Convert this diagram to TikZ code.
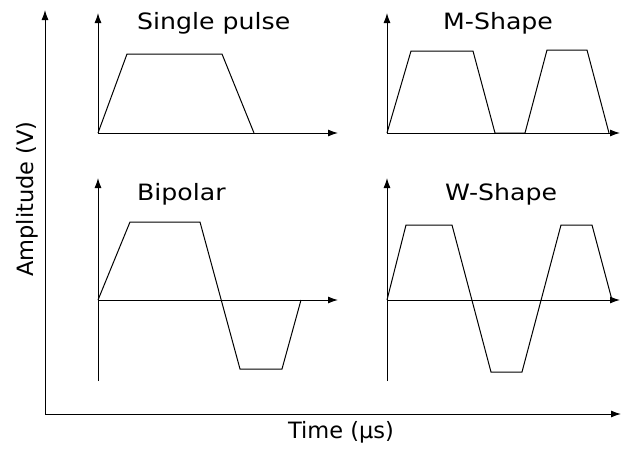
\documentclass[tikz,border=0pt]{standalone}
\usepackage{fontspec}
\setmainfont{DejaVu Sans}[FakeStretch=1.12]
\newfontfamily\axisfont{DejaVu Sans}
\usetikzlibrary{arrows.meta}

\begin{document}
\begin{tikzpicture}[
  x=1pt, y=-1pt,
  axis/.style={-{Latex[length=10pt,width=7pt]}, line width=1pt},
  wave/.style={line width=1pt, line join=miter},
  lbl/.style={font=\fontsize{22.5}{27}\selectfont, inner sep=0pt, anchor=base west},
  axlbl/.style={font=\axisfont\fontsize{22.5}{27}\selectfont, inner sep=0pt, anchor=base}
]
\useasboundingbox (0,0) rectangle (622,450);

% outer axes
\coordinate (O) at (45,414);
\coordinate (ampTop) at (45,10);
\coordinate (timeEnd) at (621,414);
\draw[axis] (O) -- (ampTop);
\draw[axis] (O) -- (timeEnd);
\node[axlbl, rotate=90] (amp) at (33,199) {Amplitude (V)};
\node[axlbl] (time) at (341,438) {Time (µs)};

% single pulse
\coordinate (sp) at (98,133);
\coordinate (spTop) at (98,13);
\coordinate (spEnd) at (338,133);
\draw[axis] (sp) -- (spTop);
\draw[axis] (sp) -- (spEnd);
\draw[wave] (sp) -- (127,54) -- (222,54) -- (254,133);
\node[lbl] (spLbl) at (137,29) {Single pulse};

% M-shape
\coordinate (ms) at (387,133);
\coordinate (msTop) at (387,13);
\coordinate (msEnd) at (620,133);
\draw[axis] (ms) -- (msTop);
\draw[axis] (ms) -- (msEnd);
\draw[wave] (ms) -- (411,51) -- (473,51) -- (495,133) -- (525,133)
  -- (547,50) -- (587,50) -- (609,133);
\node[lbl] (msLbl) at (443,29) {M-Shape};

% bipolar
\coordinate (bp) at (98,300);
\coordinate (bpTop) at (98,178);
\coordinate (bpLow) at (98,381);
\coordinate (bpEnd) at (338,300);
\draw[axis] (bpLow) -- (bpTop);
\draw[axis] (bp) -- (bpEnd);
\draw[wave] (bp) -- (130,222) -- (200,222) -- (240,369) -- (282,369) -- (301,300);
\node[lbl] (bpLbl) at (137,200) {Bipolar};

% W-shape
\coordinate (ws) at (387,300);
\coordinate (wsTop) at (387,178);
\coordinate (wsLow) at (387,381);
\coordinate (wsEnd) at (620,300);
\draw[axis] (wsLow) -- (wsTop);
\draw[axis] (ws) -- (wsEnd);
\draw[wave] (ws) -- (406,225) -- (452,225) -- (491,372) -- (522,372)
  -- (561,225) -- (592,225) -- (612,300);
\node[lbl] (wsLbl) at (445,200) {W-Shape};

\end{tikzpicture}
\end{document}
